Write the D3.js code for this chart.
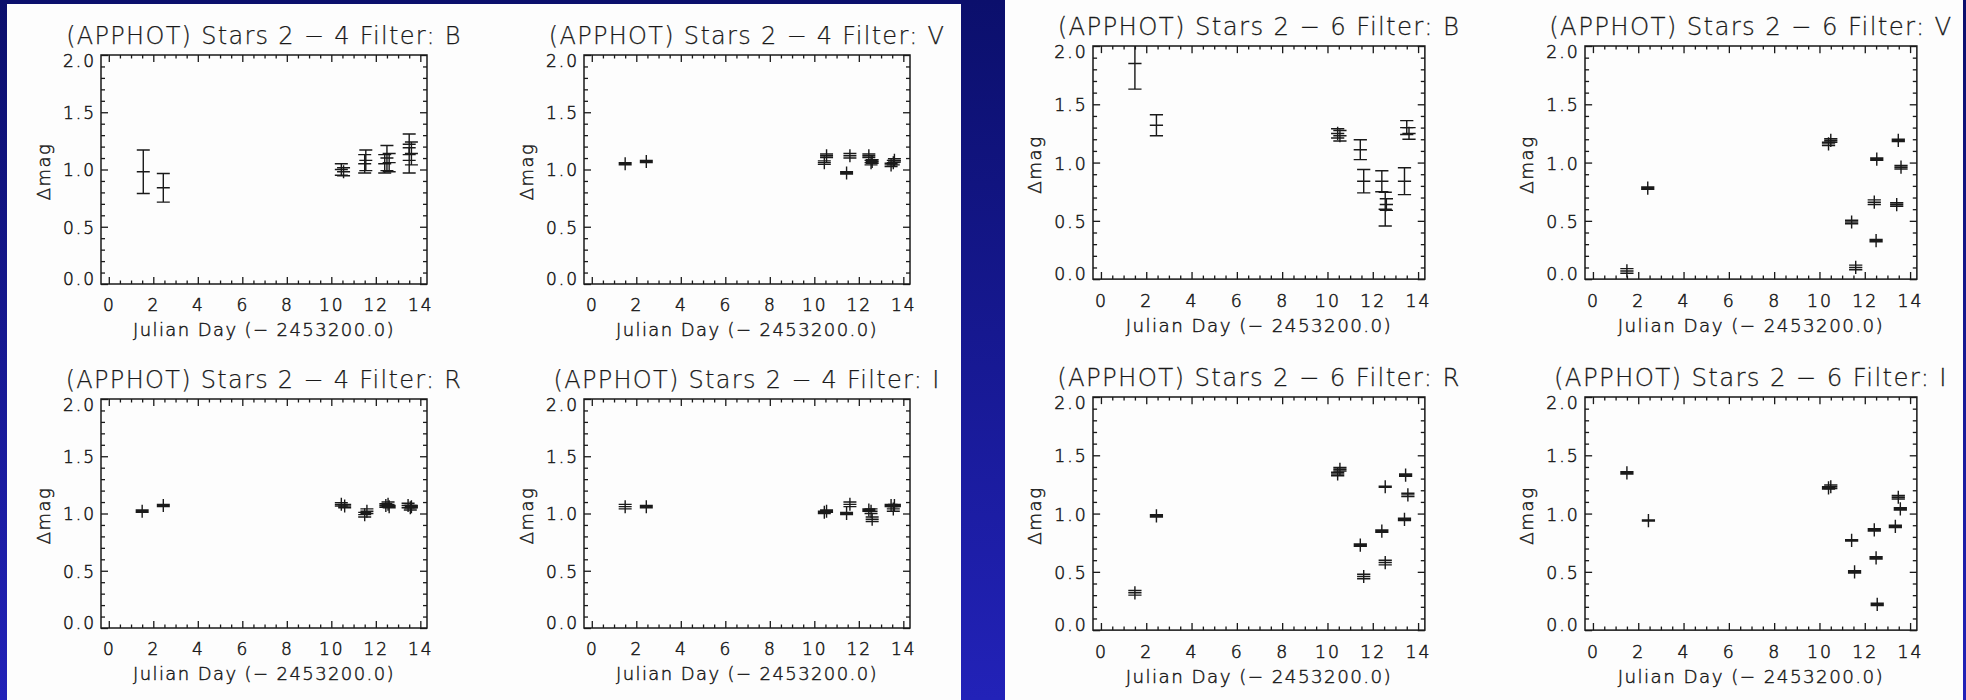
<!DOCTYPE html>
<html>
<head>
<meta charset="utf-8">
<script src="https://cdn.jsdelivr.net/npm/d3@7"></script>
<style>
html, body { margin: 0; padding: 0; background: #10148a; }
svg { display: block; }
text { font-family: "DejaVu Sans", sans-serif; fill: #1a1a1a; stroke: #1a1a1a; }
.title { font-size: 24px; letter-spacing: 1.3px; font-weight: 200; stroke-width: 0.25px; }
.tick-label { font-size: 17px; letter-spacing: 2px; font-weight: 200; stroke-width: 0.5px; }
.axis-title { font-size: 18px; letter-spacing: 1.4px; font-weight: 200; stroke-width: 0.45px; }
</style>
</head>
<body>
<svg id="chart" width="1966" height="700"></svg>
<script>
// tick values
var xTicks = [0, 2, 4, 6, 8, 10, 12, 14];
var yTicks = [0, 0.5, 1.0, 1.5, 2.0];

// Stars 2 - 4
var day24B = [1.55, 2.45, 10.45, 10.55, 11.5, 11.55, 12.4, 12.5, 12.6, 13.5, 13.5, 13.6];
var mag24B = [0.98, 0.84, 1.0, 0.98, 1.05, 1.08, 1.05, 1.1, 1.06, 1.22, 1.08, 1.14];
var err24B = [0.19, 0.125, 0.05, 0.035, 0.08, 0.09, 0.08, 0.11, 0.08, 0.09, 0.11, 0.1];

var day24V = [1.5, 2.45, 10.45, 10.55, 11.45, 11.6, 12.45, 12.55, 12.6, 13.45, 13.55, 13.6];
var mag24V = [1.05, 1.07, 1.06, 1.12, 0.97, 1.12, 1.12, 1.06, 1.07, 1.04, 1.06, 1.08];
var err24V = [0.01, 0.01, 0.015, 0.015, 0.01, 0.02, 0.015, 0.02, 0.015, 0.015, 0.02, 0.015];

var day24R = [1.5, 2.45, 10.45, 10.6, 11.5, 11.6, 12.45, 12.55, 12.6, 13.45, 13.55, 13.6];
var mag24R = [1.02, 1.07, 1.08, 1.065, 0.99, 1.02, 1.07, 1.08, 1.06, 1.07, 1.05, 1.06];
var err24R = [0.01, 0.01, 0.015, 0.015, 0.02, 0.02, 0.015, 0.02, 0.01, 0.02, 0.02, 0.01];

var day24I = [1.5, 2.45, 10.45, 10.55, 11.45, 11.6, 12.45, 12.55, 12.6, 13.45, 13.55, 13.6];
var mag24I = [1.06, 1.06, 1.01, 1.02, 1.0, 1.08, 1.03, 1.02, 0.95, 1.07, 1.04, 1.07];
var err24I = [0.02, 0.01, 0.01, 0.01, 0.01, 0.02, 0.01, 0.02, 0.02, 0.01, 0.02, 0.01];

// Stars 2 - 6
var day26B = [1.5, 2.45, 10.45, 10.55, 11.45, 11.6, 12.4, 12.55, 12.6, 13.4, 13.5, 13.6];
var mag26B = [1.85, 1.32, 1.25, 1.23, 1.11, 0.84, 0.84, 0.6, 0.64, 0.84, 1.3, 1.25];
var err26B = [0.22, 0.09, 0.04, 0.045, 0.085, 0.1, 0.09, 0.145, 0.05, 0.115, 0.06, 0.05];

var day26V = [1.5, 2.42, 10.4, 10.5, 11.42, 11.6, 12.42, 12.53, 12.5, 13.41, 13.48, 13.6];
var mag26V = [0.07, 0.78, 1.16, 1.19, 0.49, 0.1, 0.66, 1.03, 0.33, 0.64, 1.19, 0.96];
var err26V = [0.02, 0.01, 0.015, 0.015, 0.015, 0.02, 0.02, 0.01, 0.01, 0.015, 0.01, 0.015];

var day26R = [1.5, 2.45, 10.45, 10.55, 11.45, 11.6, 12.4, 12.55, 12.55, 13.4, 13.45, 13.55];
var mag26R = [0.32, 0.98, 1.34, 1.38, 0.73, 0.46, 0.85, 1.23, 0.58, 0.95, 1.33, 1.16];
var err26R = [0.02, 0.01, 0.015, 0.015, 0.01, 0.02, 0.01, 0.005, 0.02, 0.01, 0.01, 0.015];

var day26I = [1.5, 2.45, 10.4, 10.5, 11.42, 11.55, 12.42, 12.5, 12.55, 13.35, 13.48, 13.57];
var mag26I = [1.35, 0.94, 1.22, 1.23, 0.77, 0.5, 0.86, 0.62, 0.22, 0.89, 1.14, 1.04];
var err26I = [0.01, 0.005, 0.01, 0.015, 0.005, 0.01, 0.01, 0.01, 0.01, 0.01, 0.015, 0.01];

var panelTitles = [
    "(APPHOT) Stars 2 \u2212 4 Filter: B", "(APPHOT) Stars 2 \u2212 4 Filter: V",
    "(APPHOT) Stars 2 \u2212 4 Filter: R", "(APPHOT) Stars 2 \u2212 4 Filter: I",
    "(APPHOT) Stars 2 \u2212 6 Filter: B", "(APPHOT) Stars 2 \u2212 6 Filter: V",
    "(APPHOT) Stars 2 \u2212 6 Filter: R", "(APPHOT) Stars 2 \u2212 6 Filter: I"
];
var panelDays = [day24B, day24V, day24R, day24I, day26B, day26V, day26R, day26I];
var panelMags = [mag24B, mag24V, mag24R, mag24I, mag26B, mag26V, mag26R, mag26I];
var panelErrs = [err24B, err24V, err24R, err24I, err26B, err26V, err26R, err26I];
var xTitle = "Julian Day (\u2212 2453200.0)";
var yTitle = "\u0394mag";

// frame origin and scale of each plot
var panelPos = [[101, 55, 1], [584, 55, 1], [101, 399, 1], [584, 399, 1],
                [1093, 46, 1.018], [1585, 46, 1.018], [1093, 397, 1.018], [1585, 397, 1.018]];

var W = 326, H = 229;
var ink = "#1a1a1a";
var half = 6.5; // half size of the + and of the error caps

var svg = d3.select("#chart");
var defs = svg.append("defs");
var grad = defs.append("linearGradient").attr("id", "bg")
    .attr("x1", 0).attr("y1", 0).attr("x2", 0).attr("y2", 1);
grad.append("stop").attr("offset", "0%").attr("stop-color", "#0b0f6c");
grad.append("stop").attr("offset", "100%").attr("stop-color", "#2222b8");
defs.append("clipPath").attr("id", "plotClip")
    .append("rect").attr("width", W).attr("height", H);

svg.append("rect").attr("width", 1966).attr("height", 700).attr("fill", "url(#bg)");
svg.append("rect").attr("x", 7).attr("y", 4).attr("width", 954).attr("height", 696).attr("fill", "#fdfdfd");
svg.append("rect").attr("x", 1005).attr("y", 0).attr("width", 958).attr("height", 700).attr("fill", "#fdfdfd");

var x = d3.scaleLinear().domain([-0.35, 14.3]).range([0, W]);
var y = d3.scaleLinear().domain([0, 2]).range([H, 0]);
var xMinor = d3.range(0, 14.01, 0.5).filter(function (d) { return d % 2 !== 0; });
var yMinor = d3.range(0, 2.001, 0.1).filter(function (d) { return Math.abs(d * 2 - Math.round(d * 2)) > 0.01; });

function styleAxis(sel) {
    sel.attr("font-size", null).attr("font-family", null).attr("color", ink);
    sel.select(".domain").remove();
    sel.selectAll("line").attr("stroke-width", 1.3);
    sel.selectAll("text").attr("class", "tick-label").attr("fill", null);
}

for (var i = 0; i < panelTitles.length; i++) {
    var p = panelPos[i];
    var g = svg.append("g")
        .attr("transform", "translate(" + p[0] + "," + p[1] + ") scale(" + p[2] + ")");

    // axes: major and minor ticks on all four sides, pointing in
    g.append("g").attr("transform", "translate(0," + H + ")")
        .call(d3.axisBottom(x).tickValues(xTicks).tickSize(-7).tickPadding(15).tickFormat(d3.format("d")))
        .call(styleAxis);
    g.append("g").attr("transform", "translate(0," + H + ")")
        .call(d3.axisBottom(x).tickValues(xMinor).tickSize(-3.5).tickFormat(""))
        .call(styleAxis);
    g.append("g")
        .call(d3.axisTop(x).tickValues(xTicks).tickSize(-7).tickFormat(""))
        .call(styleAxis);
    g.append("g")
        .call(d3.axisTop(x).tickValues(xMinor).tickSize(-3.5).tickFormat(""))
        .call(styleAxis);
    var yl = g.append("g")
        .call(d3.axisLeft(y).tickValues(yTicks).tickSize(-7).tickPadding(5).tickFormat(d3.format(".1f")))
        .call(styleAxis);
    yl.selectAll("text").attr("y", function (d) { return d === 2 ? 6 : (d === 0 ? -5 : 1); });
    g.append("g")
        .call(d3.axisLeft(y).tickValues(yMinor).tickSize(-4).tickFormat(""))
        .call(styleAxis);
    g.append("g").attr("transform", "translate(" + W + ",0)")
        .call(d3.axisRight(y).tickValues(yTicks).tickSize(-7).tickFormat(""))
        .call(styleAxis);
    g.append("g").attr("transform", "translate(" + W + ",0)")
        .call(d3.axisRight(y).tickValues(yMinor).tickSize(-4).tickFormat(""))
        .call(styleAxis);

    g.append("rect").attr("width", W).attr("height", H)
        .attr("fill", "none").attr("stroke", ink).attr("stroke-width", 1.5);

    // data: + symbol with capped error bar
    var pts = panelDays[i].map(function (d, j) {
        return { day: d, mag: panelMags[i][j], err: panelErrs[i][j] };
    });
    g.append("g").attr("clip-path", "url(#plotClip)")
        .selectAll("path").data(pts).enter().append("path")
        .attr("fill", "none").attr("stroke", ink).attr("stroke-width", 1.4)
        .attr("d", function (d) {
            var cx = x(d.day), cy = y(d.mag);
            var yt = y(d.mag + d.err), yb = y(d.mag - d.err);
            return "M" + (cx - half) + "," + cy + "H" + (cx + half) +
                "M" + cx + "," + Math.min(cy - half, yt) + "V" + Math.max(cy + half, yb) +
                "M" + (cx - half) + "," + yt + "H" + (cx + half) +
                "M" + (cx - half) + "," + yb + "H" + (cx + half);
        });

    // titles
    g.append("text").attr("class", "title")
        .attr("x", W / 2).attr("y", -11).attr("text-anchor", "middle")
        .text(panelTitles[i]);
    g.append("text").attr("class", "axis-title")
        .attr("x", W / 2).attr("y", H + 52).attr("text-anchor", "middle")
        .text(xTitle);
    g.append("text").attr("class", "axis-title")
        .attr("transform", "translate(-51," + (H / 2 + 2) + ") rotate(-90)")
        .attr("text-anchor", "middle")
        .text(yTitle);
}
</script>
</body>
</html>
